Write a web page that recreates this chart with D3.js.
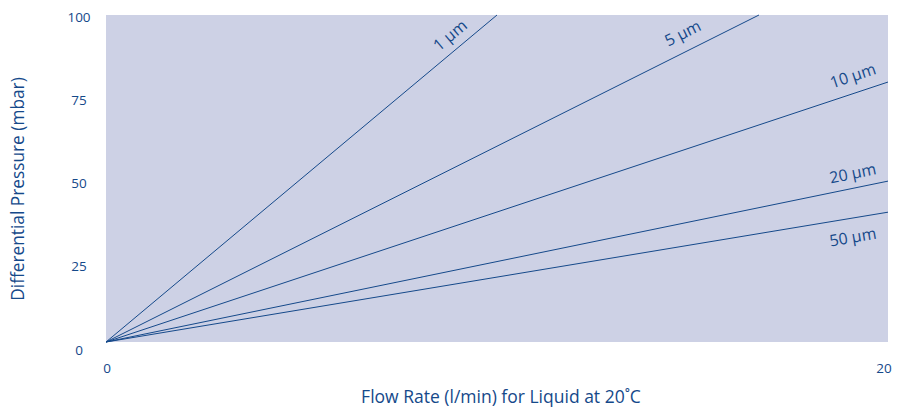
<!DOCTYPE html>
<html>
<head>
<meta charset="utf-8">
<script src="https://cdn.jsdelivr.net/npm/d3@7"></script>
<style>
  body { margin: 0; background: #fff; }
  text { font-family: "Open Sans", "Noto Sans", sans-serif; fill: #15498a; }
</style>
</head>
<body>
<div id="chart"></div>
<script>
// filter grades and where each straight line ends (flow l/min, pressure mbar)
var grades = ["1 µm", "5 µm", "10 µm", "20 µm", "50 µm"];
var endFlow = [10, 16.7, 20, 20, 20];
var endPressure = [100, 100, 79.5, 49.2, 39.7];
var xTicks = [0, 20];
var yTicks = [0, 25, 50, 75, 100];

var width = 909, height = 413;
var padL = 106, padR = 888, padT = 15, padB = 342;
var ink = "#15498a";

var svg = d3.select("#chart").append("svg")
    .attr("width", width)
    .attr("height", height);

var x = d3.scaleLinear().domain([0, 20]).range([padL, padR]);
var y = d3.scaleLinear().domain([0, 100]).range([padB, padT]);
// tick labels sit a little lower than the plot edges
var yLab = d3.scaleLinear().domain([0, 100]).range([350, 17]);

svg.append("rect")
    .attr("x", padL).attr("y", padT)
    .attr("width", padR - padL).attr("height", padB - padT)
    .attr("fill", "#cdd1e5");

// y tick labels
svg.selectAll(".ytick").data(yTicks).enter().append("text")
    .attr("x", 79)
    .attr("y", function (d) { return yLab(d); })
    .attr("dy", "0.35em")
    .attr("text-anchor", "middle")
    .attr("font-size", 13.5)
    .text(function (d) { return d; });

// x tick labels
svg.selectAll(".xtick").data(xTicks).enter().append("text")
    .attr("x", function (d, i) { return x(d) + (i ? -4 : 1); })
    .attr("y", 368)
    .attr("dy", "0.35em")
    .attr("text-anchor", "middle")
    .attr("font-size", 13.5)
    .text(function (d) { return d; });

// lines
var line = d3.line().x(function (d) { return x(d[0]); }).y(function (d) { return y(d[1]); });
svg.selectAll(".grade").data(grades).enter().append("path")
    .attr("d", function (d, i) { return line([[0, 0], [endFlow[i], endPressure[i]]]); })
    .attr("fill", "none")
    .attr("stroke", ink)
    .attr("stroke-width", 1);

// labels along the lines
var labAt = [8.8, 14.75, 19.1, 19.1, 19.1];
var labOff = [-19, -20, -18, -15, 19];
svg.selectAll(".glabel").data(grades).enter().append("text")
    .attr("transform", function (d, i) {
        var ang = Math.atan2(y(endPressure[i]) - y(0), x(endFlow[i]) - x(0)) * 180 / Math.PI;
        var px = x(labAt[i]);
        var py = y(endPressure[i] * labAt[i] / endFlow[i]) + labOff[i];
        return "translate(" + px + "," + py + ") rotate(" + ang + ")";
    })
    .attr("dy", "0.35em")
    .attr("text-anchor", "middle")
    .attr("font-size", 16)
    .text(function (d) { return d; });

// axis titles
svg.append("text")
    .attr("x", 501).attr("y", 397)
    .attr("dy", "0.35em")
    .attr("text-anchor", "middle")
    .attr("font-size", 17.5)
    .text("Flow Rate (l/min) for Liquid at 20˚C");

svg.append("text")
    .attr("transform", "translate(18,189) rotate(-90)")
    .attr("dy", "0.35em")
    .attr("text-anchor", "middle")
    .attr("font-size", 17.3)
    .text("Differential Pressure (mbar)");
</script>
</body>
</html>
